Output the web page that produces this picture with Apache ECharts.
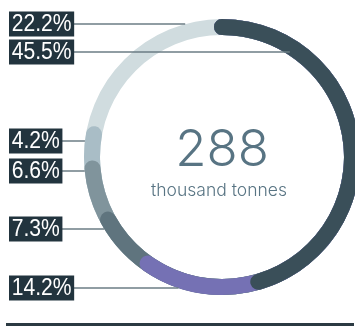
<!DOCTYPE html>
<html>
<head>
<meta charset="utf-8">
<script src="https://cdn.jsdelivr.net/npm/echarts@6/dist/echarts.min.js"></script>
<style>
  html, body { margin: 0; padding: 0; background: #ffffff; }
  #chart { width: 355px; height: 326px; }
</style>
</head>
<body>
<div id="chart"></div>
<script>
// Shares of the total (%), listed clockwise from twelve o'clock
const shares = [45.5, 14.2, 7.3, 6.6, 4.2, 22.2];
const sliceColors = ['#3a4f59', '#7571b4', '#5f747e', '#80949c', '#a9bdc6', '#d0dcdf'];
// Which share each left-hand label shows, top to bottom
const labelOrder = [5, 0, 4, 3, 2, 1];
const totalValue = '288';
const totalUnit = 'thousand tonnes';

// Layout
const CX = 222, CY = 157, R_IN = 122, R_OUT = 138;
const labelRowY = [24, 52, 141, 171, 229, 288];
// Where each leader line stops: outer edge on the left, just past the inner edge on the right
const labelSide = [-1, 1, -1, -1, -1, -1];
const leaderRadius = [R_OUT, R_IN + 3, R_OUT, R_OUT, R_OUT, R_OUT];

// Cumulative end of each slice around the ring
const ends = [];
shares.reduce((acc, v, i) => { ends[i] = +(acc + v).toFixed(3); return acc + v; }, 0);

const chart = echarts.init(document.getElementById('chart'), null, { renderer: 'canvas' });

// Each slice is a round-capped arc from 0 to its cumulative end; the later
// slices are drawn first so each one's cap overlaps the slice after it.
const series = [];
for (let i = shares.length - 1; i >= 0; i--) {
  series.push({
    type: 'bar',
    coordinateSystem: 'polar',
    data: [ends[i]],
    roundCap: true,
    barGap: '-100%',
    barCategoryGap: '0%',
    itemStyle: { color: sliceColors[i] },
    silent: true,
    z: 2
  });
}

const graphics = [];
labelOrder.forEach((idx, row) => {
  const y = labelRowY[row];
  const dy = y - CY;
  const r = leaderRadius[row];
  const endX = CX + labelSide[row] * Math.sqrt(Math.max(r * r - dy * dy, 0));
  graphics.push({
    type: 'line',
    z: 10,
    shape: { x1: 20, y1: y, x2: endX, y2: y },
    style: { stroke: '#6b7c84', lineWidth: 1.5 }
  });
  graphics.push({
    type: 'text',
    z: 20,
    x: 9,
    y: y,
    scaleX: 0.88,
    style: {
      text: shares[idx].toFixed(1) + '%',
      fill: '#ffffff',
      font: '24px "Liberation Sans", Arial, sans-serif',
      backgroundColor: '#22343e',
      padding: [1, 3, 0, 3],
      lineHeight: 24,
      verticalAlign: 'middle',
      align: 'left'
    }
  });
});

graphics.push({
  type: 'text', z: 20, x: 222, y: 151,
  style: {
    text: totalValue, fill: '#587483',
    font: '300 51px Inter, "Open Sans", sans-serif',
    align: 'center', verticalAlign: 'middle'
  }
});
graphics.push({
  type: 'text', z: 20, x: 219, y: 191,
  style: {
    text: totalUnit, fill: '#587483',
    font: '300 17.5px Inter, "Open Sans", sans-serif',
    align: 'center', verticalAlign: 'middle'
  }
});
graphics.push({
  type: 'rect', z: 20,
  shape: { x: 6, y: 323, width: 348, height: 3 },
  style: { fill: '#2b3a42' }
});

chart.setOption({
  animation: false,
  polar: { center: [CX, CY], radius: [R_IN, R_OUT] },
  angleAxis: {
    type: 'value', min: 0, max: 100, startAngle: 90, clockwise: true,
    show: false
  },
  radiusAxis: { type: 'category', data: [''], show: false },
  series: series,
  graphic: { elements: graphics }
});
</script>
</body>
</html>
